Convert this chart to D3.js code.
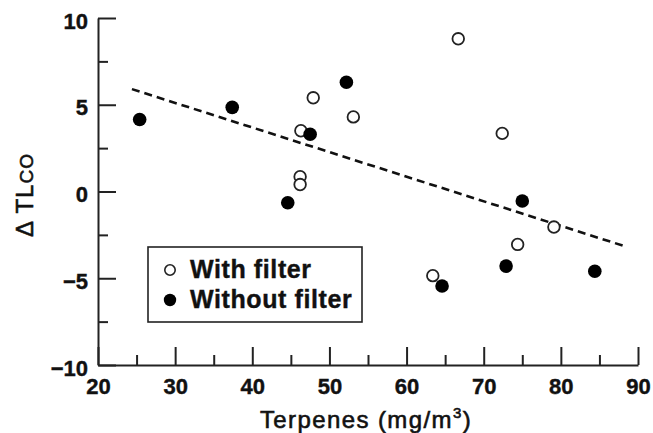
<!DOCTYPE html>
<html>
<head>
<meta charset="utf-8">
<script src="https://cdn.jsdelivr.net/npm/d3@7"></script>
<style>
  body { margin: 0; background: #fff; }
  svg { display: block; }
  text { font-family: "Liberation Sans", Arial, Helvetica, sans-serif; fill: #111; }
</style>
</head>
<body>
<div id="chart"></div>
<script>
// with filter (open circles)
var withX = [66.7, 47.9, 46.3, 53.1, 46.2, 46.2, 72.4, 63.4, 74.4, 79.1];
var withY = [8.8, 5.4, 3.5, 4.3, 0.85, 0.4, 3.35, -4.85, -3.05, -2.05];
// without filter (filled circles)
var withoutX = [25.4, 37.4, 52.2, 47.5, 44.6, 75.0, 64.6, 72.9, 84.4];
var withoutY = [4.15, 4.85, 6.3, 3.3, -0.65, -0.55, -5.45, -4.3, -4.6];
// regression line end points
var fitX = [24.4, 88.6];
var fitY = [5.9, -3.2];

var xMajor = [20, 30, 40, 50, 60, 70, 80, 90];
var xMinor = [25, 35, 45, 55, 65, 75, 85];
var yMajor = [-10, -5, 0, 5, 10];
var yMinor = [-7.5, -2.5, 2.5, 7.5];

var width = 653, height = 433;

var x = d3.scaleLinear().domain([20, 90]).range([98, 638]);
var y = d3.scaleLinear().domain([-10, 10]).range([365, 18]);

var svg = d3.select("#chart").append("svg")
  .attr("width", width).attr("height", height);

function fmt(d) { return d < 0 ? "\u2212" + Math.abs(d) : String(d); }

// x axis
var xAxis = svg.append("g").attr("transform", "translate(0," + y(-10) + ")")
  .call(d3.axisBottom(x).tickValues(xMajor).tickSize(-18).tickSizeOuter(0).tickFormat(fmt));
svg.append("g").attr("transform", "translate(0," + y(-10) + ")")
  .call(d3.axisBottom(x).tickValues(xMinor).tickSize(-10).tickSizeOuter(0).tickFormat(""))
  .select(".domain").remove();
xAxis.selectAll("text").attr("y", 29).attr("dy", 0)
  .style("font-size", "22px").style("font-weight", "bold");

// y axis
var yAxis = svg.append("g").attr("transform", "translate(" + x(20) + ",0)")
  .call(d3.axisLeft(y).tickValues(yMajor).tickSize(-18).tickSizeOuter(0).tickFormat(fmt));
svg.append("g").attr("transform", "translate(" + x(20) + ",0)")
  .call(d3.axisLeft(y).tickValues(yMinor).tickSize(-10).tickSizeOuter(0).tickFormat(""))
  .select(".domain").remove();
yAxis.selectAll("text").attr("x", -10).attr("dy", "0.46em")
  .style("font-size", "22px").style("font-weight", "bold");

svg.selectAll(".domain, .tick line").attr("stroke", "#222").attr("stroke-width", 2);
svg.selectAll(".tick text").attr("fill", "#111")
  .attr("stroke", "#111").attr("stroke-width", 0.4);

// axis titles
svg.append("text")
  .attr("x", (x(20) + x(90)) / 2 - 2).attr("y", 428)
  .attr("text-anchor", "middle")
  .attr("stroke", "#111").attr("stroke-width", 0.6)
  .style("font-size", "24px").style("letter-spacing", "1.4px")
  .text("Terpenes (mg/m")
  .append("tspan").attr("dy", -10).style("font-size", "15px").text("3")
  .select(function() { return this.parentNode; })
  .append("tspan").attr("dy", 10).text(")");

var yt = svg.append("text")
  .attr("transform", "translate(33,195) rotate(-90)")
  .attr("text-anchor", "middle")
  .attr("stroke", "#111").attr("stroke-width", 0.6)
  .style("font-size", "24px").style("letter-spacing", "1px");
yt.append("tspan").text("\u0394 TL");
yt.append("tspan").style("font-size", "19px").text("CO");

// regression line
var line = d3.line().x(function(d) { return x(d[0]); }).y(function(d) { return y(d[1]); });
svg.append("path")
  .datum(d3.zip(fitX, fitY))
  .attr("d", line)
  .attr("fill", "none").attr("stroke", "#111")
  .attr("stroke-width", 2.6).attr("stroke-dasharray", "8,5");

// points
svg.append("g").selectAll("circle").data(d3.zip(withX, withY)).enter().append("circle")
  .attr("cx", function(d) { return x(d[0]); })
  .attr("cy", function(d) { return y(d[1]); })
  .attr("r", 5.8)
  .attr("fill", "#fff").attr("stroke", "#222").attr("stroke-width", 1.8);

svg.append("g").selectAll("circle").data(d3.zip(withoutX, withoutY)).enter().append("circle")
  .attr("cx", function(d) { return x(d[0]); })
  .attr("cy", function(d) { return y(d[1]); })
  .attr("r", 6.8)
  .attr("fill", "#000");

// legend
var lg = svg.append("g");
lg.append("rect").attr("x", 148).attr("y", 247).attr("width", 214).attr("height", 75)
  .attr("fill", "#fff").attr("stroke", "#222").attr("stroke-width", 1.6);
lg.append("circle").attr("cx", 170).attr("cy", 270).attr("r", 5.2)
  .attr("fill", "#fff").attr("stroke", "#222").attr("stroke-width", 1.6);
lg.append("circle").attr("cx", 170).attr("cy", 300).attr("r", 6.2).attr("fill", "#000");
lg.selectAll("text.lab").data(["With filter", "Without filter"]).enter().append("text")
  .attr("class", "lab")
  .attr("x", 190).attr("y", function(d, i) { return 278 + i * 30; })
  .attr("stroke", "#111").attr("stroke-width", 0.4)
  .style("font-size", "25px").style("font-weight", "bold").style("letter-spacing", "0.6px")
  .text(function(d) { return d; });
</script>
</body>
</html>
